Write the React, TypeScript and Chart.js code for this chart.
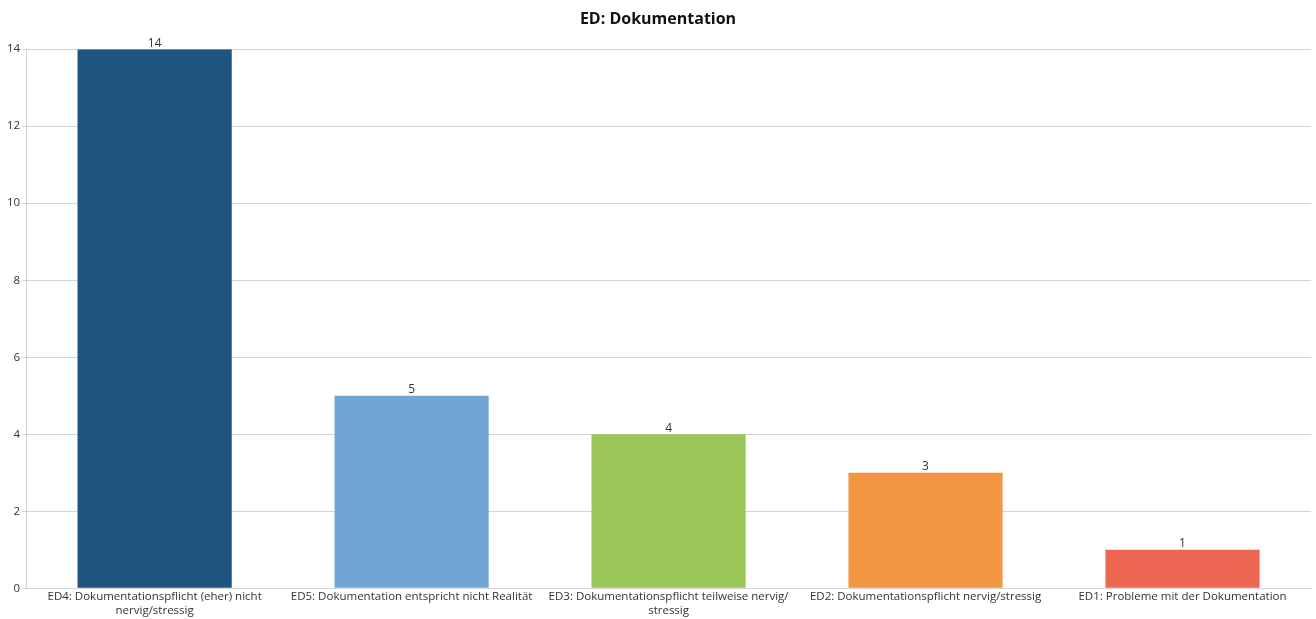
import React, { useEffect, useRef } from "react";
import { Chart, registerables } from "chart.js";

Chart.register(...registerables);

const categories: (string | string[])[] = [
  ["ED4: Dokumentationspflicht (eher) nicht", "nervig/stressig"],
  "ED5: Dokumentation entspricht nicht Realität",
  ["ED3: Dokumentationspflicht teilweise nervig/", "stressig"],
  "ED2: Dokumentationspflicht nervig/stressig",
  "ED1: Probleme mit der Dokumentation",
];
const counts = [14, 5, 4, 3, 1];
const barColors = ["#1f5380", "#6fa6d4", "#9bc65a", "#f39642", "#ec6651"];
const yTicks = [0, 2, 4, 6, 8, 10, 12, 14];

const FONT = "'Open Sans', 'Noto Sans', sans-serif";

// Writes each bar's value centred just above it.
const valueLabels = {
  id: "valueLabels",
  afterDatasetsDraw(chart: Chart) {
    const ctx = chart.ctx;
    const meta = chart.getDatasetMeta(0);
    const data = chart.data.datasets[0].data as number[];
    ctx.save();
    ctx.font = `12px ${FONT}`;
    ctx.fillStyle = "#333";
    ctx.textAlign = "center";
    ctx.textBaseline = "bottom";
    meta.data.forEach((el: any, i: number) => {
      ctx.fillText(String(data[i]), el.x, el.y);
    });
    ctx.restore();
  },
};

export default function App() {
  const ref = useRef<HTMLCanvasElement>(null);
  useEffect(() => {
    if (!ref.current) return;
    const chart = new Chart(ref.current, {
      type: "bar",
      data: {
        labels: categories,
        datasets: [
          {
            data: counts,
            backgroundColor: barColors,
            categoryPercentage: 1,
            barPercentage: 0.6,
          },
        ],
      },
      options: {
        animation: false,
        responsive: true,
        maintainAspectRatio: false,
        layout: { padding: { left: 5, right: 5, top: 8, bottom: 0 } },
        plugins: {
          legend: { display: false },
          tooltip: { enabled: false },
          title: {
            display: true,
            text: "ED: Dokumentation",
            color: "#111",
            font: { family: FONT, size: 16, weight: "bold" },
            padding: { top: 2, bottom: 20 },
          },
        },
        scales: {
          x: {
            grid: { display: false, drawTicks: false },
            border: { color: "#d4d4d4" },
            ticks: {
              color: "#333",
              font: { family: FONT, size: 11.5, lineHeight: 1.25 },
              maxRotation: 0,
              autoSkip: false,
              padding: 1,
            },
          },
          y: {
            min: 0,
            max: 14,
            afterBuildTicks(axis: any) {
              axis.ticks = yTicks.map((v) => ({ value: v }));
            },
            grid: { color: "#d4d4d4", tickLength: 4 },
            border: { color: "#d4d4d4" },
            ticks: {
              color: "#333",
              font: { family: FONT, size: 11.5 },
              padding: 2,
            },
          },
        },
      },
      plugins: [valueLabels],
    });
    return () => chart.destroy();
  }, []);
  return (
    <div style={{ position: "fixed", left: 0, top: 0, width: 1316, height: 619, background: "#fff" }}>
      <canvas ref={ref} />
    </div>
  );
}
